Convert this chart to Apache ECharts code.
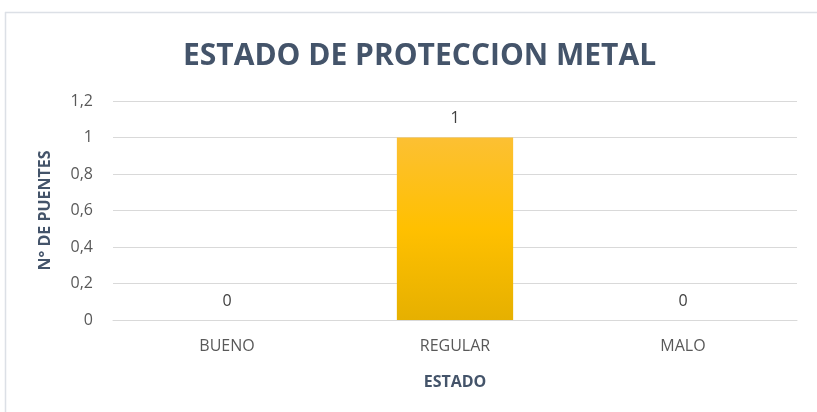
<!DOCTYPE html>
<html>
<head>
<meta charset="utf-8">
<script src="https://cdn.jsdelivr.net/npm/echarts@6/dist/echarts.min.js"></script>
<style>
  html, body { margin: 0; padding: 0; background: #fff; }
  #chart { width: 817px; height: 412px; }
</style>
</head>
<body>
<div id="chart"></div>
<script>
// Estado de la protección metálica: número de puentes por estado
const categories = ['BUENO', 'REGULAR', 'MALO'];
const puentes = [0, 1, 0];
const yTicks = [0, 0.2, 0.4, 0.6, 0.8, 1, 1.2];

const chart = echarts.init(document.getElementById('chart'), null, { renderer: 'canvas' });

const font = '"Open Sans", "DejaVu Sans", sans-serif';

chart.setOption({
  animation: false,
  backgroundColor: '#ffffff',
  graphic: [
    { type: 'line', shape: { x1: 5, y1: 12.5, x2: 817, y2: 12.5 }, style: { stroke: '#DCE0E6', lineWidth: 1.5 } },
    { type: 'line', shape: { x1: 5.5, y1: 12, x2: 5.5, y2: 412 }, style: { stroke: '#DCE0E6', lineWidth: 1.5 } }
  ],
  title: {
    text: 'ESTADO DE PROTECCION METAL',
    left: 178,
    top: 36,
    textStyle: { fontFamily: font, fontWeight: 'bold', fontSize: 30, color: '#44546A' }
  },
  grid: { left: 113, right: 20, top: 101, bottom: 92, containLabel: false },
  xAxis: {
    type: 'category',
    data: categories,
    name: 'ESTADO',
    nameLocation: 'middle',
    nameGap: 54,
    nameTextStyle: { fontFamily: font, fontWeight: 'bold', fontSize: 16, color: '#44546A' },
    axisLine: { show: true, lineStyle: { color: '#D9D9D9' } },
    axisTick: { show: false },
    axisLabel: { fontFamily: font, fontSize: 16, color: '#595959', margin: 18 }
  },
  yAxis: {
    type: 'value',
    min: 0,
    max: 1.2,
    interval: 0.2,
    name: 'N° DE PUENTES',
    nameLocation: 'middle',
    nameGap: 60,
    nameRotate: 90,
    nameTextStyle: { fontFamily: font, fontWeight: 'bold', fontSize: 16, color: '#44546A' },
    axisLine: { show: false },
    axisTick: { show: false },
    splitLine: { lineStyle: { color: '#D9D9D9', width: 1 } },
    axisLabel: {
      fontFamily: font, fontSize: 16, color: '#595959', margin: 20,
      formatter: function (v) {
        const t = yTicks.find(x => Math.abs(x - v) < 1e-9);
        return String(t !== undefined ? t : v).replace('.', ',');
      }
    }
  },
  series: [{
    type: 'bar',
    data: puentes,
    barWidth: '51%',
    itemStyle: {
      color: new echarts.graphic.LinearGradient(0, 0, 0, 1, [
        { offset: 0, color: '#FCC033' },
        { offset: 0.5, color: '#FFC000' },
        { offset: 1, color: '#E6B000' }
      ]),
      borderWidth: 0
    },
    label: {
      show: true,
      position: 'top',
      distance: 11,
      fontFamily: font,
      fontSize: 16,
      color: '#404040'
    }
  }]
});
</script>
</body>
</html>
